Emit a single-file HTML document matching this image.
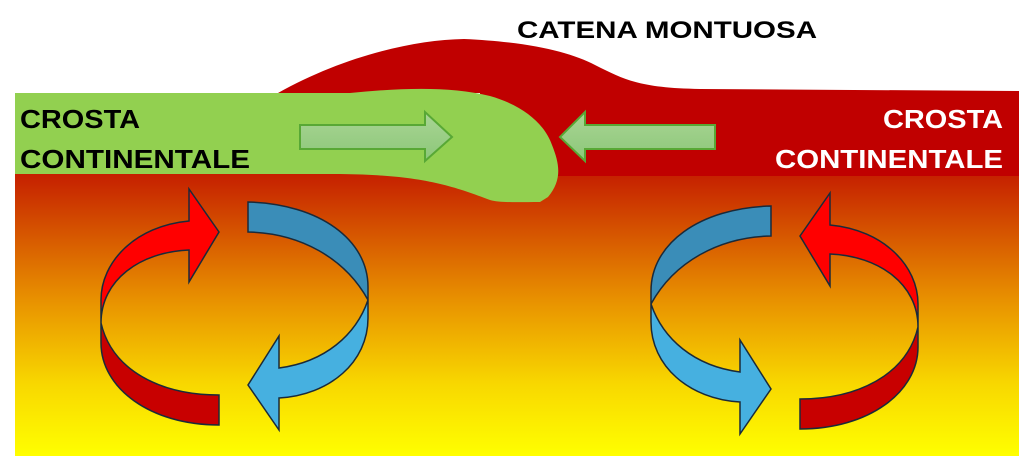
<!DOCTYPE html>
<html><head><meta charset="utf-8"><style>html,body{margin:0;padding:0;background:#fff}svg{display:block}</style></head>
<body>
<svg width="1024" height="456" viewBox="0 0 1024 456" xmlns="http://www.w3.org/2000/svg" font-family="Liberation Sans, sans-serif" font-weight="bold">
<defs>
<linearGradient id="g" x1="0" y1="0" x2="0" y2="1">
<stop offset="0" stop-color="#c41c00"/>
<stop offset="0.45" stop-color="#e89000"/>
<stop offset="0.75" stop-color="#f8d800"/>
<stop offset="1" stop-color="#ffff00"/>
</linearGradient>
<linearGradient id="ga" x1="0" y1="0" x2="0" y2="1">
<stop offset="0" stop-color="#a9d594"/>
<stop offset="1" stop-color="#8cc779"/>
</linearGradient>
<g id="cyc">
<path d="M101,323 C101,280 140,252 189,250 L189,282 L219,232 L189,189 L189,221 C135,226 101,262 101,300 Z" fill="#ff0000" stroke="#1a2a3a" stroke-width="1.5"/>
<path d="M101,323 C112,370 160,395 219,395 L219,425 C150,425 101,388 101,343 Z" fill="#c80000" stroke="#1a2a3a" stroke-width="1.5"/>
<path d="M248,202 C320,204 368,240 368,287 L368,300 C345,258 300,233 248,232 Z" fill="#3a8db8" stroke="#1a2a3a" stroke-width="1.5"/>
<path d="M368,300 L368,318 C368,362 330,395 279,398 L279,430 L248,385 L279,336 L279,368 C325,362 356,335 368,300 Z" fill="#46b0e0" stroke="#1a2a3a" stroke-width="1.5"/>
</g>
</defs>
<rect x="15" y="170" width="1004" height="286" fill="url(#g)"/>
<path d="M278,93 C340,58 410,40 464,39 C530,42 570,52 595,65 C625,80 640,88 700,89 L1019,91 L1019,176 L480,176 L480,93 Z" fill="#c00000"/>
<path d="M15,93 L350,93 C400,88 450,86 490,96 C525,106 545,125 552,145 C560,165 562,180 548,197 L540,202 C520,202 500,203 490,200 C450,185 420,175 340,174 L15,174 Z" fill="#92d050"/>
<path d="M300,125 L425,125 L425,112 L452,137 L425,161 L425,149 L300,149 Z" fill="url(#ga)" stroke="#58a835" stroke-width="2"/>
<path d="M715,125 L585,125 L585,112 L560,137 L585,161 L585,149 L715,149 Z" fill="url(#ga)" stroke="#58a835" stroke-width="2"/>
<use href="#cyc"/>
<use href="#cyc" transform="translate(1019,4) scale(-1,1)"/>
<text x="517" y="38" font-size="24" textLength="300" lengthAdjust="spacingAndGlyphs" fill="#000">CATENA MONTUOSA</text>
<text x="20" y="128" font-size="26" textLength="120" lengthAdjust="spacingAndGlyphs" fill="#000">CROSTA</text>
<text x="20" y="168" font-size="26" textLength="230" lengthAdjust="spacingAndGlyphs" fill="#000">CONTINENTALE</text>
<text x="883" y="128" font-size="26" textLength="120" lengthAdjust="spacingAndGlyphs" fill="#fff">CROSTA</text>
<text x="775" y="168" font-size="26" textLength="228" lengthAdjust="spacingAndGlyphs" fill="#fff">CONTINENTALE</text>
</svg>
</body></html>
